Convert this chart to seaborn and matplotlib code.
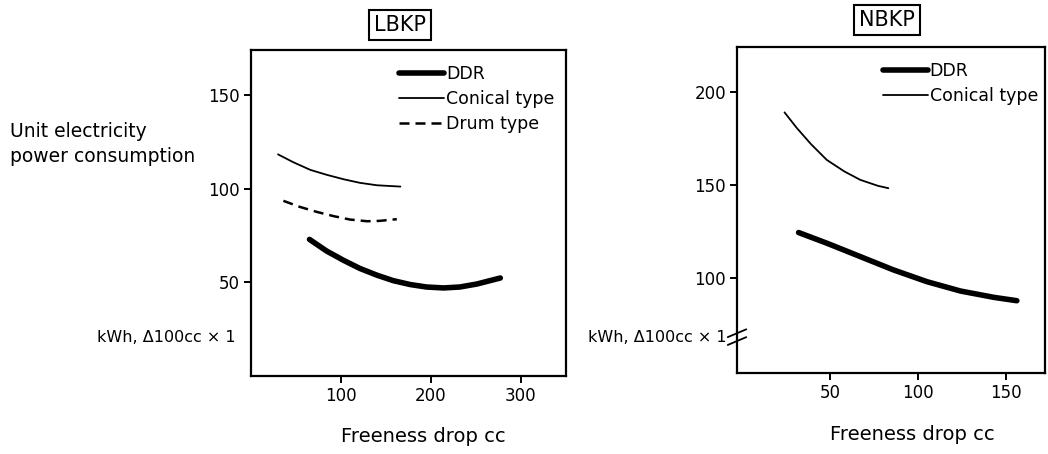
import pandas as pd
import matplotlib
matplotlib.use("Agg")
from matplotlib import pyplot as plt
from matplotlib.lines import Line2D
import seaborn as sns

# LBKP panel (freeness drop cc vs. kWh)
lbkp_ddr_x = [65, 84, 103, 121, 140, 158, 177, 195, 214, 232, 251, 277]
lbkp_ddr_y = [72.9, 66.7, 61.7, 57.4, 53.8, 50.9, 48.8, 47.5, 47.0, 47.5, 49.1, 52.3]
lbkp_conical_x = [30, 47, 66, 84, 103, 121, 140, 166]
lbkp_conical_y = [118.3, 114.1, 110.0, 107.4, 105.0, 103.1, 101.8, 101.1]
lbkp_drum_x = [36, 54, 73, 92, 110, 129, 143, 162]
lbkp_drum_y = [93.5, 90.3, 87.6, 85.3, 83.5, 82.6, 82.8, 83.7]

# NBKP panel
nbkp_ddr_x = [32, 48, 67, 86, 105, 124, 143, 156]
nbkp_ddr_y = [124.4, 118.7, 111.5, 104.3, 98.0, 93.0, 89.6, 87.8]
nbkp_conical_x = [24, 31, 39, 48, 58, 67, 77, 83]
nbkp_conical_y = [188.9, 180.5, 171.9, 163.4, 157.2, 152.7, 149.5, 148.2]

lbkp_xticks = [100, 200, 300]
lbkp_yticks = [50, 100, 150]
nbkp_xticks = [50, 100, 150]
nbkp_yticks = [100, 150, 200]

sns.set_style("ticks")
plt.rcParams['font.family'] = ['DejaVu Sans']
plt.rcParams['axes.linewidth'] = 1.6
plt.rcParams['axes.edgecolor'] = 'black'
plt.rcParams['text.color'] = 'black'
plt.rcParams['xtick.color'] = 'black'
plt.rcParams['ytick.color'] = 'black'

styles = {
    "DDR": dict(color="black", linewidth=4.0, linestyle="-"),
    "Conical type": dict(color="black", linewidth=1.3, linestyle="-"),
    "Drum type": dict(color="black", linewidth=1.8, linestyle=(0, (4, 2.4))),
}


def draw_series(ax, x, y, name):
    df = pd.DataFrame({"x": x, "y": y})
    st = styles[name]
    sns.lineplot(data=df, x="x", y="y", ax=ax, color=st["color"],
                 linewidth=st["linewidth"], linestyle=st["linestyle"],
                 solid_capstyle="round", dash_capstyle="butt")


def style_axes(ax, xticks, yticks):
    for s in ax.spines.values():
        s.set_visible(True)
        s.set_linewidth(1.6)
    ax.set_xticks(xticks)
    ax.set_yticks(yticks)
    ax.tick_params(axis="both", direction="out", length=5, width=1.4,
                   labelsize=12, colors="black", pad=3)
    ax.set_xlabel("")
    ax.set_ylabel("")


fig = plt.figure(figsize=(10.48, 4.54), dpi=100)
ax1 = fig.add_axes([251 / 1048, 1 - 376 / 454, 315 / 1048, 326 / 454])
ax2 = fig.add_axes([737 / 1048, 1 - 373 / 454, 308 / 1048, 326 / 454])

draw_series(ax1, lbkp_ddr_x, lbkp_ddr_y, "DDR")
draw_series(ax1, lbkp_conical_x, lbkp_conical_y, "Conical type")
draw_series(ax1, lbkp_drum_x, lbkp_drum_y, "Drum type")
ax1.set_xlim(0, 350)
ax1.set_ylim(0, 174)
style_axes(ax1, lbkp_xticks, lbkp_yticks)

draw_series(ax2, nbkp_ddr_x, nbkp_ddr_y, "DDR")
draw_series(ax2, nbkp_conical_x, nbkp_conical_y, "Conical type")
ax2.set_xlim(-3, 172)
ax2.set_ylim(49, 224)
style_axes(ax2, nbkp_xticks, nbkp_yticks)


def legend_handles(names):
    hs = []
    for n in names:
        st = styles[n]
        hs.append(Line2D([0], [0], color=st["color"], linewidth=st["linewidth"],
                         linestyle=st["linestyle"], label=n))
    return hs


leg_kw = dict(frameon=False, fontsize=12.5, handlelength=2.6, handletextpad=0.1,
              labelspacing=0.4, borderaxespad=0.0, loc="upper right")
ax1.legend(handles=legend_handles(["DDR", "Conical type", "Drum type"]),
           bbox_to_anchor=(0.985, 0.975), **leg_kw)
ax2.legend(handles=legend_handles(["DDR", "Conical type"]),
           bbox_to_anchor=(1.0, 0.975), **leg_kw)

# boxed panel titles
box = dict(boxstyle="square,pad=0.25", fc="white", ec="black", lw=1.5)
ax1.text(0.473, 1.077, "LBKP", transform=ax1.transAxes, ha="center", va="center",
         fontsize=15, bbox=box)
ax2.text(0.487, 1.083, "NBKP", transform=ax2.transAxes, ha="center", va="center",
         fontsize=15, bbox=box)

# x labels
fig.text(423 / 1048, 1 - 437 / 454, "Freeness drop cc", ha="center", va="center", fontsize=14)
fig.text(912 / 1048, 1 - 435 / 454, "Freeness drop cc", ha="center", va="center", fontsize=14)

# y label text
fig.text(10 / 1048, 1 - 144 / 454, "Unit electricity\npower consumption", ha="left",
         va="center", fontsize=13.5, linespacing=1.35)
fig.text(236 / 1048, 1 - 337 / 454, "kWh, Δ100cc × 1", ha="right", va="center", fontsize=11.5)
fig.text(727 / 1048, 1 - 337 / 454, "kWh, Δ100cc × 1", ha="right", va="center", fontsize=11.5)

# axis break mark on the NBKP y axis
yb = 0.11
ax2.plot([-0.012, 0.012], [yb - 0.006, yb + 0.006], transform=ax2.transAxes,
         color="white", linewidth=5, clip_on=False, solid_capstyle="butt")
for dy in (-0.012, 0.012):
    ax2.plot([-0.03, 0.03], [yb + dy - 0.012, yb + dy + 0.012], transform=ax2.transAxes,
             color="black", linewidth=1.3, clip_on=False)

fig.savefig("out.png", dpi=100, facecolor="white")
